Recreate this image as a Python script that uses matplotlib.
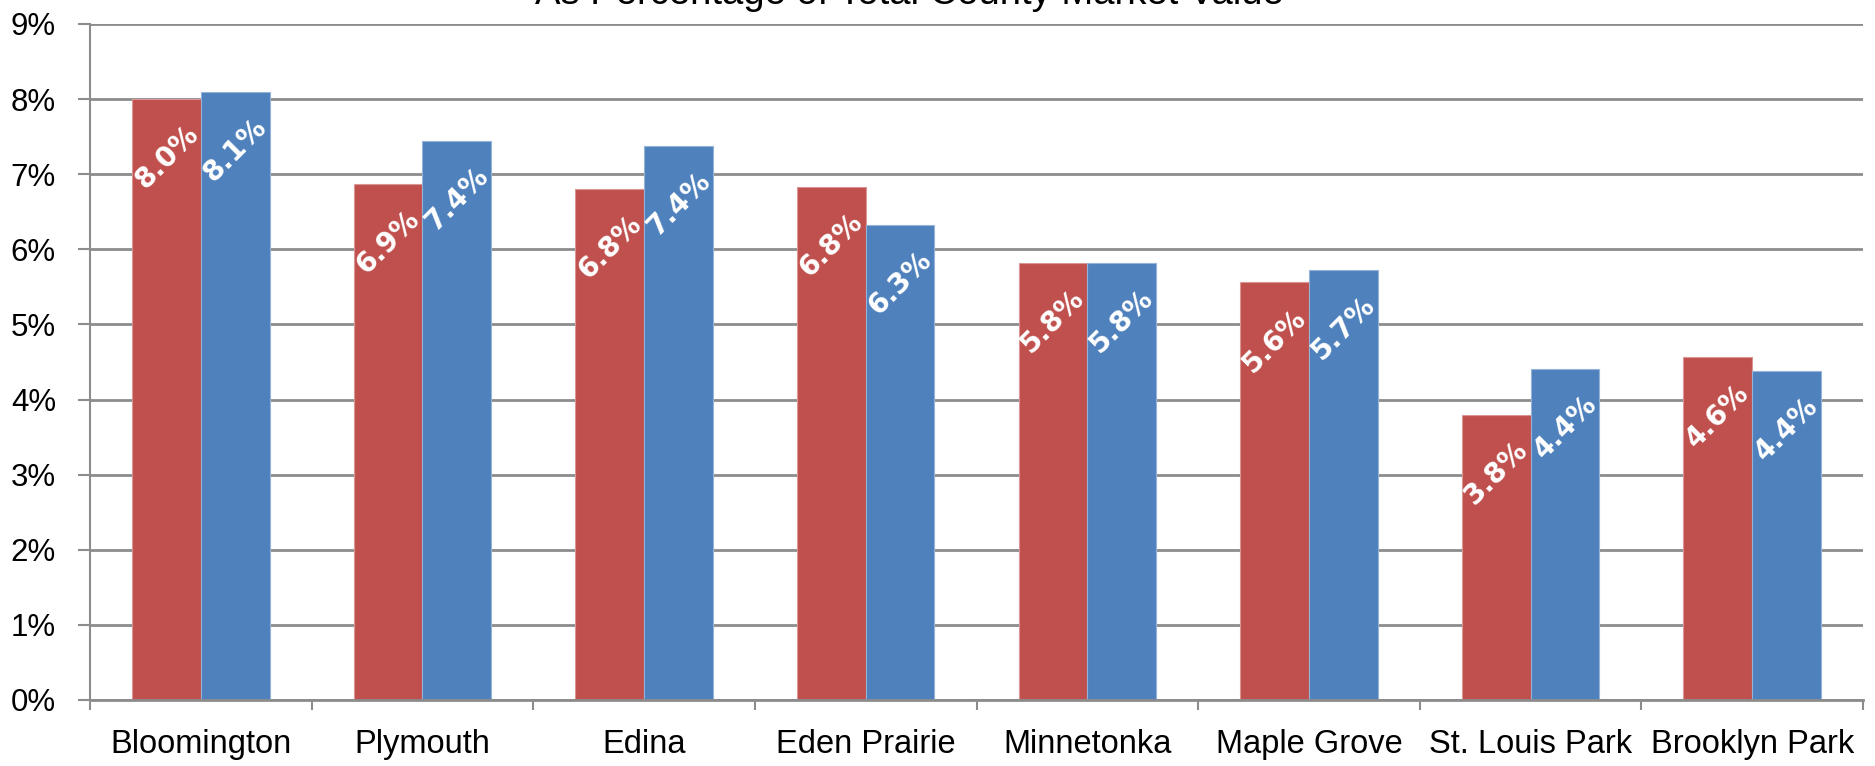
import matplotlib
matplotlib.use('Agg')
import matplotlib.pyplot as plt
import numpy as np

CITIES = ['Bloomington', 'Plymouth', 'Edina', 'Eden Prairie', 'Minnetonka',
          'Maple Grove', 'St. Louis Park', 'Brooklyn Park']
RED_VALS = [8.0, 6.87, 6.8, 6.83, 5.82, 5.56, 3.8, 4.56]
BLUE_VALS = [8.1, 7.44, 7.38, 6.33, 5.82, 5.73, 4.41, 4.38]
YTICKS = [0, 1, 2, 3, 4, 5, 6, 7, 8, 9]

RED = '#C0504D'
BLUE = '#4F81BD'
GRID = '#8C8C8C'
BAR_W = 0.31
AXIS_FONT = ['Liberation Sans', 'DejaVu Sans']
LABEL_FONT = ['DejaVu Sans']

plt.rcParams['font.family'] = AXIS_FONT

fig = plt.figure(figsize=(18.75, 7.66), dpi=100)
ax = fig.add_axes([0.048, 0.0862, 0.9456, 0.8825])

x = np.arange(len(CITIES))
bars_r = ax.bar(x - BAR_W / 2, RED_VALS, BAR_W, color=RED, edgecolor='#D99694',
                linewidth=0.8, zorder=2)
bars_b = ax.bar(x + BAR_W / 2, BLUE_VALS, BAR_W, color=BLUE, edgecolor='#95B3D7',
                linewidth=0.8, zorder=2)

for bars, vals in ((bars_r, RED_VALS), (bars_b, BLUE_VALS)):
    for b, v in zip(bars, vals):
        ax.annotate(f'{v:.1f}%', xy=(b.get_x() + b.get_width() / 2, v),
                    xytext=(0, -42), textcoords='offset points',
                    ha='center', va='center', rotation=45,
                    rotation_mode='anchor', color='white',
                    fontsize=20, fontweight='bold', family=LABEL_FONT, zorder=3)

ax.set_xlim(-0.5, len(CITIES) - 0.5)
ax.set_ylim(0, 9)
ax.set_yticks(YTICKS)
ax.set_yticklabels([f'{t}%' for t in YTICKS])
ax.yaxis.grid(True, color=GRID, linewidth=2, zorder=0)
ax.set_axisbelow(True)

ax.set_xticks(x)
ax.set_xticklabels(CITIES)
ax.set_xticks(np.arange(len(CITIES) + 1) - 0.5, minor=True)
ax.tick_params(axis='x', which='major', length=0, pad=21, labelsize=23.5)
ax.tick_params(axis='x', which='minor', length=7, width=1.5, color=GRID)
ax.tick_params(axis='y', length=8.5, width=1.5, color=GRID, pad=16, labelsize=22.5)

for s in ('top', 'right'):
    ax.spines[s].set_visible(False)
ax.spines['left'].set_color(GRID)
ax.spines['left'].set_linewidth(1.5)
ax.spines['bottom'].set_color(GRID)
ax.spines['bottom'].set_linewidth(2)

fig.text(0.485, 1 - 4 / 766, 'As Percentage of Total County Market Value',
         ha='center', va='baseline', fontsize=27.5)

fig.savefig('out.png', dpi=100)
